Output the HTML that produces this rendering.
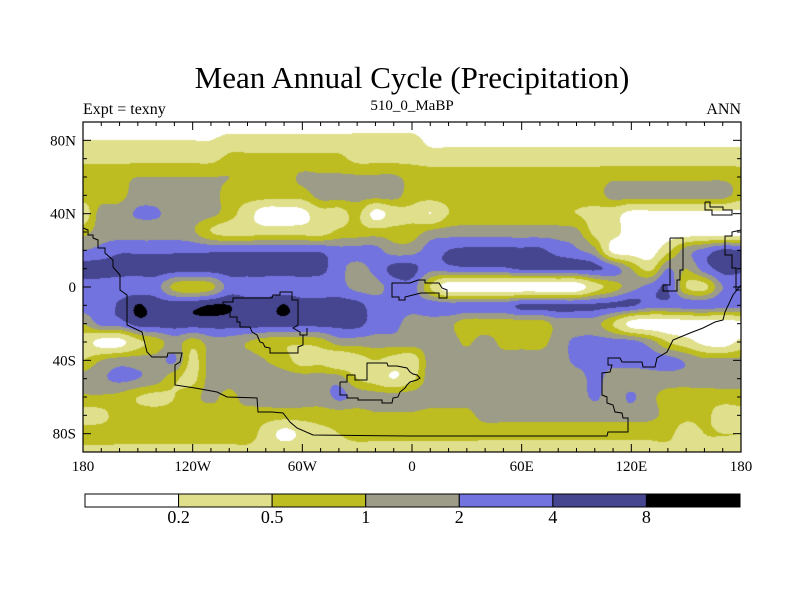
<!DOCTYPE html>
<html><head><meta charset="utf-8"><style>
body{margin:0;background:#fff;}
#wrap{position:relative;width:800px;height:600px;overflow:hidden;background:#fff;font-family:"Liberation Serif",serif;color:#000;}
.t{position:absolute;white-space:nowrap;}
</style></head><body>
<div id="wrap">
<div class="t" style="left:0;width:824px;text-align:center;top:60px;font-size:31px;">Mean Annual Cycle (Precipitation)</div>
<div class="t" style="left:83px;top:101px;font-size:16px;">Expt = texny</div>
<div class="t" style="left:312px;width:200px;text-align:center;top:98px;font-size:15px;">510_0_MaBP</div>
<div class="t" style="left:641px;width:100px;text-align:right;top:101px;font-size:16px;">ANN</div>
<canvas id="map" width="658" height="330" style="position:absolute;left:83px;top:122px;"></canvas>
<svg id="ov" width="800" height="600" style="position:absolute;left:0;top:0;"></svg>
</div>
<script>
const lats=[90,80,70,60,50,40,30,20,10,0,-10,-20,-30,-40,-50,-60,-70,-80,-90];
const lons=[];for(let l=-180;l<=180;l+=10)lons.push(l);
const levels=[0.2,0.5,1,2,4,8];
const colors=["#ffffff","#dfdf8c","#bdbd22","#9c9c88","#7373df","#464690","#000000"];
const levelLabels=["0.2","0.5","1","2","4","8"];
const xTickLabels=["180","120W","60W","0","60E","120E","180"];
const xTickLons=[-180,-120,-60,0,60,120,180];
const yTickLabels=["80N","40N","0","40S","80S"];
const yTickLats=[80,40,0,-40,-80];
function rep(v,n){return Array(n).fill(v);}
const r90=rep(0.1,37);
const r80=[...rep(0.2,8),...rep(0.3,11),...rep(0.15,18)];
const r70=[...rep(0.4,8),...rep(0.6,7),...rep(0.4,4),...rep(0.35,18)];
const r60=[0.8,0.8,0.8,1.0,1.0,1.0,1.0,1.0,1.0,0.8,0.8,0.8,1.1,1.1,1.1,1.1,1.1,1.1,0.8,...rep(0.7,10),...rep(0.85,7),0.7];
const r50=[0.7,0.7,0.8,1.4,1.4,1.4,1.4,1.4,0.7,0.7,0.7,0.7,0.7,1.3,1.3,1.3,1.3,1.3,0.7,...rep(0.7,10),...rep(1.3,7),0.7];
const r40=[0.3,1.4,1.4,2.2,2.2,1.4,1.4,1.2,0.7,0.3,0.12,0.12,0.15,0.35,0.35,0.6,0.15,0.3,0.4,0.2,0.5,0.7,0.7,0.7,0.7,0.7,0.6,0.5,0.4,0.3,0.15,0.15,0.15,0.15,0.15,0.15,0.15];
const r30=[0.8,1.4,1.4,1.4,1.4,1.4,1.1,0.5,0.35,0.35,0.35,0.35,0.35,0.35,0.6,0.7,0.7,0.7,0.7,1.2,1.4,1.4,1.4,1.4,1.4,1.4,1.4,1.2,0.4,0.3,0.12,0.12,0.12,0.12,0.12,0.12,0.12];
const r20=[2.0,2.5,3.5,3.5,3.5,3.5,3.5,3.5,3.5,3.5,3.5,3.5,3.5,3.5,2.5,2.5,2.5,1.4,1.5,2.8,4,4.5,4.5,4.5,4.5,4.5,3,2.2,1.2,0.15,0.12,0.12,0.4,1.4,2.5,4.5,4];
const r10=[...rep(5.5,13),5,2.5,1.6,2.5,5,5,2.5,3,3.5,3.5,3.5,4.5,4.5,4.5,4.5,4.5,3,1.0,0.4,2,1.0,2.8,5,4.5];
const r0=[2.8,2.8,2.6,2.6,2.6,0.8,0.6,0.8,2.6,2.6,2.6,2.6,2.6,2.6,2.6,1.6,1.6,2.6,2.8,0.5,0.12,0.12,0.12,0.12,0.12,0.12,0.12,0.12,0.35,0.7,1.5,2.5,4,0.5,0.4,2,2.5];
const rS10=[2.8,2.8,4.5,8.3,6,6,6.5,8.3,8,6,6,8.2,5.5,5.5,5.5,5,2.8,2.8,2.8,3,2.8,2.8,2.8,2.8,4.5,4.5,4.5,4.5,4.5,4.5,4.3,2.8,2.8,2.8,2.8,2.8,2.8];
const rS20=[1.0,2.5,2.8,5.5,5.5,5.5,5.5,5.5,5.5,5.5,5.5,5.5,5,5,5,5,2.8,2.5,1.4,1.4,1.2,0.7,0.7,0.7,0.7,0.7,1.3,1.3,1.3,0.5,0.15,0.12,0.12,0.12,0.12,0.12,0.15];
const rS30=[0.3,0.15,0.15,0.4,0.7,1.4,0.7,1.4,1.4,1.0,0.7,0.6,0.6,0.7,1.4,1.4,1.4,1.4,1.4,1.4,1.4,0.9,1.4,0.8,0.8,0.8,1.4,2.4,2.6,2.6,2.5,1.4,0.5,0.3,0.15,0.12,0.25];
const rS40=[0.5,1.0,1.4,1.4,1.4,2.2,0.4,1.4,1.4,1.4,1.0,0.7,0.35,0.4,0.25,0.35,0.5,0.35,0.3,1.4,1.4,1.4,1.4,1.4,1.4,1.4,1.4,2.4,2.6,2.6,2.6,2.6,2.6,1.8,1.2,1.2,1.2];
const rS50=[1.4,1.8,2.3,2.0,1.4,0.6,0.4,1.4,1.4,1.4,1.4,1.4,1.4,1.4,1.4,0.5,0.35,0.2,0.4,...rep(1.4,9),2.5,...rep(1.4,8)];
const rS60=[0.9,0.9,0.8,0.5,0.4,0.5,0.8,1.2,0.8,1.4,1.4,1.4,1.4,1.4,2.3,1.6,1.4,1.4,1.4,...rep(1.4,9),2.2,1.4,2.2,1.2,0.8,0.7,0.7,0.7,0.7];
const rS70=[0.35,0.4,0.7,0.7,0.7,0.7,0.7,0.7,0.9,0.7,0.7,0.7,0.7,0.7,0.7,0.7,0.9,0.9,0.9,0.8,0.8,0.8,1.3,1.3,1.3,1.3,1.3,1.3,1.3,1.3,1.3,1.2,0.8,0.6,0.6,0.35,0.4];
const rS80=[...rep(0.7,10),0.35,0.15,0.25,0.4,0.5,0.6,0.6,0.6,0.6,...rep(0.6,14),0.35,0.5,0.5,0.5];
const rS90=rep(0.4,37);
const precip=[r90,r80,r70,r60,r50,r40,r30,r20,r10,r0,rS10,rS20,rS30,rS40,rS50,rS60,rS70,rS80,rS90];

const X0=83,X1=741,Y0=122,Y1=452;
function xOf(lon){return X0+(lon+180)/360*(X1-X0);}
function yOf(lat){return Y0+(90-lat)/180*(Y1-Y0);}
function lonOf(px){return px/(X1-X0)*360-180;}
function latOf(py){return 90-py/(Y1-Y0)*180;}
function classify(v){let k=0;while(k<levels.length&&v>=levels[k])k++;return k;}
function hex(c){return [parseInt(c.substr(1,2),16),parseInt(c.substr(3,2),16),parseInt(c.substr(5,2),16)];}
function cr(p0,p1,p2,p3,t){return p1+0.5*t*(p2-p0+t*(2*p0-5*p1+4*p2-p3+t*(3*(p1-p2)+p3-p0)));}

(function(){
 const cv=document.getElementById('map'),ctx=cv.getContext('2d');
 const W=cv.width,H=cv.height,img=ctx.createImageData(W,H);
 const lg=precip.map(r=>r.map(v=>Math.log(v)));
 const NI=lats.length,NJ=lons.length;
 const ci=k=>Math.max(0,Math.min(NI-1,k)),cj=k=>Math.max(0,Math.min(NJ-1,k));
 const rgb=colors.map(hex);
 const dLat=lats[0]-lats[1],dLon=lons[1]-lons[0];
 for(let py=0;py<H;py++){
  const lat=latOf(py+0.5);let fi=(lats[0]-lat)/dLat;fi=Math.max(0,Math.min(NI-1.0001,fi));
  const i=Math.floor(fi),ti=fi-i;
  for(let px=0;px<W;px++){
   const lon=lonOf(px+0.5);let fj=(lon-lons[0])/dLon;fj=Math.max(0,Math.min(NJ-1.0001,fj));
   const j=Math.floor(fj),tj=fj-j;
   const rows=[];
   for(let a=-1;a<=2;a++){const R=lg[ci(i+a)];rows.push(cr(R[cj(j-1)],R[j],R[cj(j+1)],R[cj(j+2)],tj));}
   const v=Math.exp(cr(rows[0],rows[1],rows[2],rows[3],ti));
   const c=rgb[classify(v)],o=(py*W+px)*4;
   img.data[o]=c[0];img.data[o+1]=c[1];img.data[o+2]=c[2];img.data[o+3]=255;
  }
 }
 ctx.putImageData(img,0,0);
})();

const NS="http://www.w3.org/2000/svg";
const ov=document.getElementById('ov');
function mk(tag,attrs){const e=document.createElementNS(NS,tag);for(const k in attrs)e.setAttribute(k,attrs[k]);ov.appendChild(e);return e;}
const coasts=[
 "83,228 88,230 88,235 93,235 93,238 98,240 98,248 105,248 105,253 113,260 113,267 120,275 120,290 127,295 127,325 142,332 147,352 152,357 167,357 168,353 182,353 180,362 175,365 175,385 195,388 217,392 227,397 257,398 258,412 272,412 283,413 290,422 297,428 313,435 410,436 607,436 608,432 628,432 628,418 623,418 622,413 615,412 613,405 607,403 607,397 602,395 602,373 610,372 612,365 608,365 608,358 620,358 622,362 642,362 643,367 655,367 657,358 667,352 673,340 690,333 703,328 715,322 723,320 725,312 733,295 741,285",
 "223,308 223,302 233,302 233,298 272,298 273,295 280,295 280,292 292,292 292,300 298,300 298,325 293,328 300,332 300,335 307,335 307,328",
 "223,308 230,310 230,317 237,317 237,322 240,322 240,327 250,327 252,332 257,335 260,342 263,343 265,347 270,348 270,353 298,353 298,347 303,345 303,335",
 "340,382 340,395 347,395 347,398 358,398 358,400 382,400 382,403 392,403 393,398 398,397 400,392 405,388 407,385 410,382 417,380 420,378 417,375 413,374 410,372 407,368 397,366 388,366 387,363 367,363 367,380 355,380 355,375 347,375 347,382 340,382",
 "705,202 710,202 710,207 723,207 723,210 732,210 732,215 712,215 712,210 705,210 705,202",
 "670,238 683,238 683,270 680,270 680,280 677,280 677,291 663,291 663,285 670,285 670,238",
 "392,288 392,297 399,297 399,300 405,300 405,297 421,293 439,293 439,298 447,298 447,290 442,288 439,283 425,283 425,280 418,280 410,283 392,283 392,288",
 "741,230 732,232 732,236 725,236 725,255 732,255 732,268 736,268 736,290 741,290"
];
coasts.forEach(p=>{const e=mk('polyline',{points:p,fill:'none',stroke:'#000','stroke-width':'1'});
 
 });
const fr=mk('rect',{x:X0,y:Y0,width:X1-X0,height:Y1-Y0,fill:'none',stroke:'#000','stroke-width':'1.2'});


for(let lon=-180;lon<=180;lon+=10){const maj=lon%60===0,len=maj?8:4,x=xOf(lon);
 const t1=mk('line',{x1:x,y1:Y0,x2:x,y2:Y0+len,stroke:'#000'});
 
 
 const t2=mk('line',{x1:x,y1:Y1,x2:x,y2:Y1-len,stroke:'#000'});
 
 }
for(let lat=-80;lat<=80;lat+=10){const maj=lat%40===0,len=maj?8:4,y=yOf(lat);
 const t1=mk('line',{x1:X0,y1:y,x2:X0+len,y2:y,stroke:'#000'});
 
 
 const t2=mk('line',{x1:X1,y1:y,x2:X1-len,y2:y,stroke:'#000'});
 
 }
xTickLabels.forEach((s,k)=>{const t=mk('text',{x:xOf(xTickLons[k]),y:471,'text-anchor':'middle','font-family':'Liberation Serif, serif','font-size':'15'});t.textContent=s;
 
 });
yTickLabels.forEach((s,k)=>{const t=mk('text',{x:76,y:yOf(yTickLats[k])+5,'text-anchor':'end','font-family':'Liberation Serif, serif','font-size':'15'});t.textContent=s;
 
 });
const CB0=85,CB1=740,CBY=494,CBH=13,bw=(CB1-CB0)/colors.length;
colors.forEach((c,k)=>{const r=mk('rect',{x:CB0+k*bw,y:CBY,width:bw,height:CBH,fill:c,stroke:'#000','stroke-width':'1'});
 
 });
levelLabels.forEach((s,k)=>{const t=mk('text',{x:CB0+(k+1)*bw,y:523,'text-anchor':'middle','font-family':'Liberation Serif, serif','font-size':'18'});t.textContent=s;
 
 });
</script>
</body></html>
